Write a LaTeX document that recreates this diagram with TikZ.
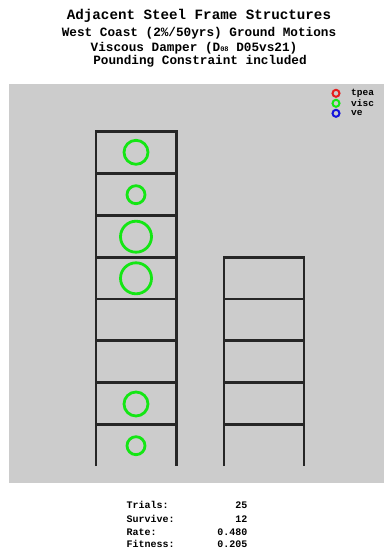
\documentclass[tikz,border=0pt]{standalone}
\usepackage{fontspec}
\newfontfamily\monof{Liberation Mono}
\definecolor{bggray}{RGB}{204,204,204}
\definecolor{dampgreen}{RGB}{20,230,20}
\definecolor{legred}{RGB}{230,30,30}
\definecolor{legblue}{RGB}{20,20,220}
\tikzset{
  frameline/.style={line width=2.6pt, draw=black!85},
  damper/.style={circle, draw=dampgreen, line width=2.8pt, inner sep=0pt},
  legdot/.style={circle, line width=2pt, inner sep=0pt, minimum size=7pt},
  titletxt/.style={font=\monof\bfseries\fontsize{14.2}{16}\selectfont, inner sep=0pt},
  subtxt/.style={font=\monof\bfseries\fontsize{12.7}{14}\selectfont, inner sep=0pt},
  legtxt/.style={font=\monof\bfseries\fontsize{9.5}{10}\selectfont, inner sep=0pt},
  smalltxt/.style={font=\monof\bfseries\fontsize{10}{11}\selectfont, inner sep=0pt},
}
\begin{document}
\begin{tikzpicture}[x=1pt,y=-1pt]
\useasboundingbox (0,0) rectangle (384,550);
\fill[white] (0,0) rectangle (384,550);
\fill[bggray] (8.5,84) rectangle (384,482.5);
% titles
\node[titletxt] (t1) at (199,15.7) {Adjacent Steel Frame Structures};
\node[subtxt] (t2) at (199,33.3) {West Coast (2\%/50yrs) Ground Motions};
\node[subtxt] (t3) at (194,48.3) {Viscous Damper (D{\fontsize{7}{8}\selectfont 08} D05vs21)};
\node[subtxt] (t4) at (200,61.7) {Pounding Constraint included};
% legend
\node[legdot, draw=legred] (lr) at (336,93.3) {};
\node[legdot, draw=dampgreen] (lg) at (336,103.3) {};
\node[legdot, draw=legblue] (lb) at (336,113.3) {};
\node[legtxt, anchor=west] (ltr) at (351,93.3) {tpea};
\node[legtxt, anchor=west] (ltg) at (351,103.3) {visc};
\node[legtxt, anchor=west] (ltb) at (351,113.3) {ve};
% left frame
\foreach \i/\y in {0/131.7,1/173.3,2/215.3,3/257.3,4/299,5/340.7,6/382.7,7/424.7,8/466}
  \coordinate (L\i) at (96,\y);
\foreach \i/\y in {0/131.7,1/173.3,2/215.3,3/257.3,4/299,5/340.7,6/382.7,7/424.7,8/466}
  \coordinate (R\i) at (176.5,\y);
\draw[frameline] (L8) -- (L0) -- (R0) -- (R8);
\foreach \i in {1,...,7} \draw[frameline] (L\i) -- (R\i);
% right frame
\foreach \i/\y in {0/257.3,1/299,2/340.7,3/382.7,4/424.7,5/466}
  \coordinate (A\i) at (224,\y);
\foreach \i/\y in {0/257.3,1/299,2/340.7,3/382.7,4/424.7,5/466}
  \coordinate (B\i) at (304,\y);
\draw[frameline] (A5) -- (A0) -- (B0) -- (B5);
\foreach \i in {1,...,4} \draw[frameline] (A\i) -- (B\i);
% dampers
\node[damper, minimum size=24pt] (d1) at (136,152.3) {};
\node[damper, minimum size=18pt] (d2) at (136,194.7) {};
\node[damper, minimum size=31pt] (d3) at (136,236.7) {};
\node[damper, minimum size=31pt] (d4) at (136,278.3) {};
\node[damper, minimum size=24pt] (d7) at (136,404) {};
\node[damper, minimum size=18pt] (d8) at (136,445.7) {};
% stats
\node[smalltxt, anchor=west] (s1) at (126.5,505) {Trials:};
\node[smalltxt, anchor=west] (s2) at (126.5,519) {Survive:};
\node[smalltxt, anchor=west] (s3) at (126.5,532) {Rate:};
\node[smalltxt, anchor=west] (s4) at (126.5,544) {Fitness:};
\node[smalltxt, anchor=east] (v1) at (247.5,505) {25};
\node[smalltxt, anchor=east] (v2) at (247.5,519) {12};
\node[smalltxt, anchor=east] (v3) at (247.5,532) {0.480};
\node[smalltxt, anchor=east] (v4) at (247.5,544) {0.205};
\end{tikzpicture}
\end{document}
